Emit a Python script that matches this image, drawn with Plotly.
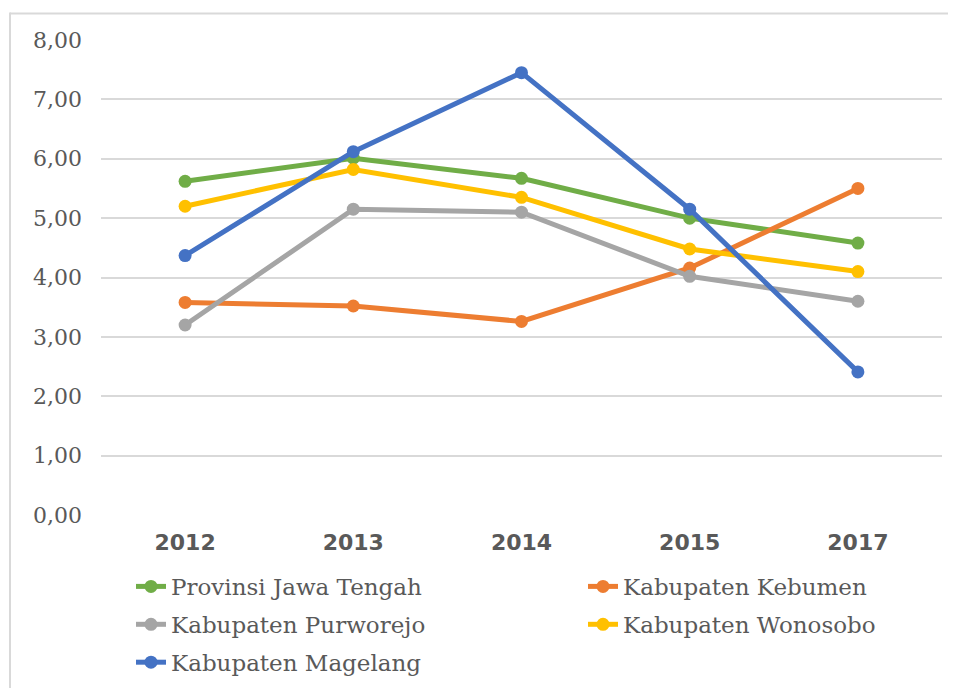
import plotly.graph_objects as go

years = ["2012", "2013", "2014", "2015", "2017"]
y_ticks = [0, 1, 2, 3, 4, 5, 6, 7, 8]
y_tick_labels = ["0,00", "1,00", "2,00", "3,00", "4,00", "5,00", "6,00", "7,00", "8,00"]

series_names = [
    "Provinsi Jawa Tengah",
    "Kabupaten Kebumen",
    "Kabupaten Purworejo",
    "Kabupaten Wonosobo",
    "Kabupaten Magelang",
]
jawa_tengah = [5.62, 6.01, 5.67, 5.00, 4.58]
kebumen = [3.58, 3.52, 3.26, 4.16, 5.50]
purworejo = [3.20, 5.15, 5.10, 4.02, 3.60]
wonosobo = [5.20, 5.82, 5.35, 4.48, 4.10]
magelang = [4.37, 6.12, 7.45, 5.15, 2.41]

series_values = [jawa_tengah, kebumen, purworejo, wonosobo, magelang]
colors = ["#70ad47", "#ed7d31", "#a5a5a5", "#ffc000", "#4472c4"]
legend_ids = ["legend", "legend2", "legend", "legend2", "legend"]

fig = go.Figure()
for i, (name, vals, col) in enumerate(zip(series_names, series_values, colors)):
    fig.add_trace(go.Scatter(
        x=years, y=vals, name=name, mode="lines+markers",
        line=dict(color=col, width=5),
        marker=dict(color=col, size=13),
        legend=legend_ids[i], legendgroup="g%d" % i,
    ))

# the page body has an 8px margin, so the figure is drawn 8px in from the top-left
OFF = 8
W, H = 956 - OFF, 688 - OFF
ml, mt = 101 - OFF, 39.5 - OFF
mr = W - (942 - OFF)
mb = H - (515 - OFF)
pw = W - ml - mr
ph = H - mt - mb

def px_to_paper_x(sx):
    return (sx - OFF - ml) / pw

def px_to_paper_y(sy):
    return (H - mb - (sy - OFF)) / ph

border = dict(color="#d9d9d9", width=2)
fig.add_shape(
    type="line", xref="paper", yref="paper",
    x0=px_to_paper_x(10), x1=px_to_paper_x(990),
    y0=px_to_paper_y(13), y1=px_to_paper_y(13),
    line=border, layer="below",
)
fig.add_shape(
    type="line", xref="paper", yref="paper",
    x0=px_to_paper_x(10), x1=px_to_paper_x(10),
    y0=px_to_paper_y(12), y1=px_to_paper_y(730),
    line=border, layer="below",
)

legend_font = dict(family="DejaVu Serif", size=23, color="#595959")
legend_common = dict(
    orientation="v", xanchor="left", yanchor="top",
    font=legend_font, bgcolor="rgba(0,0,0,0)",
    tracegroupgap=5, itemclick=False, itemdoubleclick=False,
)

fig.update_layout(
    width=W, height=H,
    margin=dict(l=ml, r=mr, t=mt, b=mb, autoexpand=False, pad=0),
    paper_bgcolor="white", plot_bgcolor="white",
    showlegend=True,
    legend=dict(x=px_to_paper_x(131), y=px_to_paper_y(565), **legend_common),
    legend2=dict(x=px_to_paper_x(583), y=px_to_paper_y(565), **legend_common),
    xaxis=dict(
        type="category", range=[-0.5, 4.5],
        showgrid=False, showline=False, zeroline=False,
        ticks="", tickfont=dict(family="DejaVu Sans", size=22, color="#595959", weight="bold"),
        ticklabelstandoff=12,
    ),
    yaxis=dict(
        range=[0, 8], tickvals=y_ticks, ticktext=y_tick_labels,
        showgrid=True, gridcolor="#d9d9d9", gridwidth=2,
        zeroline=False, showline=False, ticks="",
        tickfont=dict(family="DejaVu Serif", size=22, color="#595959"),
        ticklabelstandoff=18,
    ),
)

fig.write_html("out.html", config={"displayModeBar": False})
